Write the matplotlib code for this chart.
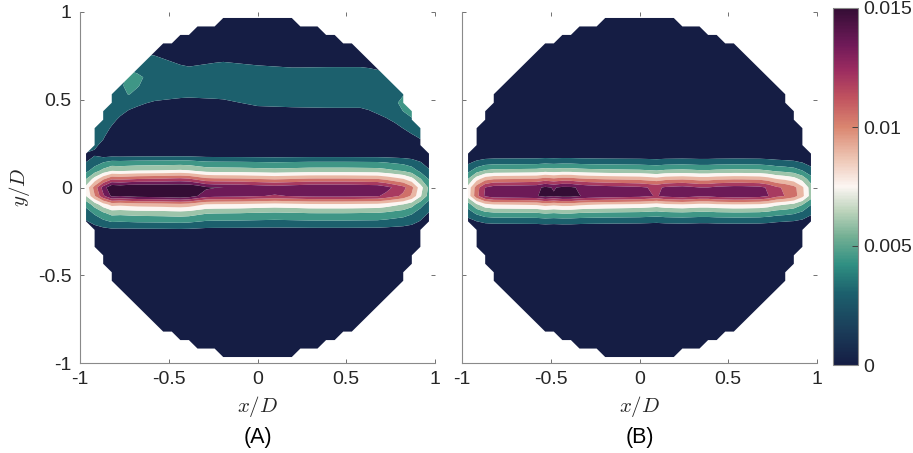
import numpy as np
import matplotlib
matplotlib.use("Agg")
import matplotlib.pyplot as plt
from matplotlib.colors import LinearSegmentedColormap, Normalize
from matplotlib.cm import ScalarMappable

plt.rcParams['font.family'] = ['Liberation Sans', 'DejaVu Sans']
plt.rcParams['mathtext.fontset'] = 'cm'
plt.rcParams['axes.unicode_minus'] = False

# jet cross-section on the grid rows (fraction of the y = 0 row value)
prof_y = [-0.29, -0.2415, -0.1932, -0.1449, -0.0966, -0.0483, 0.0, 0.0483, 0.0966, 0.1449, 0.1932, 0.25]
prof_a = [0, 0.08, 0.21, 0.34, 0.54, 0.925, 1.0, 0.69, 0.39, 0.23, 0.03, 0]
prof_b = [0, 0.03, 0.15, 0.34, 0.59, 1.02, 1.0, 0.70, 0.385, 0.18, 0.03, 0]

# y = 0 row value along x
xa = [-0.97, -0.95, -0.93, -0.90, -0.875, -0.86, -0.84, -0.76, -0.70, -0.5, -0.45,
      -0.38, -0.32, -0.28, -0.1, 0.1, 0.3, 0.5, 0.7, 0.73, 0.84, 0.88, 0.90, 0.93,
      0.955, 0.97]
amp_a = [0.0062, 0.0075, 0.009, 0.0105, 0.012, 0.0137, 0.0150, 0.0146, 0.0152, 0.0156,
         0.0160, 0.0155, 0.0142, 0.0136, 0.0134, 0.0128, 0.0134, 0.0134, 0.0131, 0.0124,
         0.0107, 0.009, 0.0077, 0.006, 0.0047, 0.004]
xb = [-0.97, -0.95, -0.93, -0.90, -0.87, -0.85, -0.7, -0.58, -0.54, -0.49, -0.46, -0.42,
      -0.32, -0.2, 0.0, 0.06, 0.1, 0.15, 0.25, 0.34, 0.37, 0.40, 0.55, 0.68, 0.72, 0.78,
      0.85, 0.89, 0.92, 0.95, 0.97]
amp_b = [0.0062, 0.0075, 0.0092, 0.0107, 0.012, 0.0127, 0.0129, 0.0131, 0.0139, 0.0134,
         0.0133, 0.0141, 0.0131, 0.0127, 0.0123, 0.0119, 0.0116, 0.0123, 0.0126, 0.0120,
         0.0117, 0.0123, 0.0127, 0.0124, 0.0119, 0.0106, 0.0100, 0.0090, 0.0077, 0.006,
         0.005]

# weak upper band in case A: centre, half width and level along x
arc_x = [-1.0, -0.9, -0.8, -0.72, -0.6, -0.4, -0.2, 0.0, 0.2, 0.4, 0.6, 0.75, 0.85, 0.95, 1.0]
arc_yc = [0.40, 0.43, 0.53, 0.60, 0.625, 0.60, 0.61, 0.58, 0.57, 0.57, 0.57, 0.52, 0.46, 0.40, 0.38]
arc_hw = [0.22, 0.21, 0.14, 0.14, 0.13, 0.09, 0.11, 0.12, 0.12, 0.12, 0.12, 0.13, 0.13, 0.14, 0.14]
arc_amp = [0.0026, 0.0027, 0.0028, 0.0033, 0.0029, 0.0026, 0.0026, 0.0026, 0.0025,
           0.0026, 0.0026, 0.0029, 0.0033, 0.0028, 0.0026]
arc_sec_d = [0, 0.6, 1.0, 1.6]
arc_sec_v = [1, 0.9, 0.55, 0]

levels = np.arange(0, 0.01501, 0.0015)
vmax = 0.015

curl = LinearSegmentedColormap.from_list('curl', [
    (0.00, '#151d44'), (0.10, '#1b3e5a'), (0.20, '#1c606d'), (0.28, '#2f8f82'),
    (0.36, '#74b094'), (0.43, '#bcd3bb'), (0.50, '#fcf6f3'), (0.58, '#edc4b2'),
    (0.667, '#da8670'), (0.75, '#c0525f'), (0.83, '#9a2b60'), (0.90, '#6e1a58'),
    (1.00, '#340d35')])
fill_colors = [curl(0.0)] + [curl(l / vmax) for l in levels[2:]]

g = np.linspace(-0.966, 0.966, 41)
X, Y = np.meshgrid(g, g)
outside = np.hypot(X, Y) > 0.99


def jet(xs, amps, prof):
    return np.interp(X, xs, amps) * np.interp(Y, prof_y, prof)


za = jet(xa, amp_a, prof_a)
d = np.abs(Y - np.interp(X, arc_x, arc_yc)) / np.interp(X, arc_x, arc_hw)
za = np.maximum(za, np.interp(X, arc_x, arc_amp) * np.interp(d, arc_sec_d, arc_sec_v))
zb = jet(xb, amp_b, prof_b)

fig = plt.figure(figsize=(9.13, 4.53), dpi=100)
W, H = 913, 453
ax_a = fig.add_axes([80 / W, 1 - 363 / H, 355 / W, 351 / H])
ax_b = fig.add_axes([462 / W, 1 - 363 / H, 355 / W, 351 / H])
cax = fig.add_axes([833 / W, 1 - 365 / H, 25 / W, 357 / H])

ticks = [-1, -0.5, 0, 0.5, 1]
tick_lbl = ['-1', '-0.5', '0', '0.5', '1']
for ax, z, name in [(ax_a, za, '(A)'), (ax_b, zb, '(B)')]:
    zm = np.ma.masked_array(np.clip(z, 0, vmax - 1e-6), mask=outside)
    ax.contourf(X, Y, zm, levels=levels, colors=fill_colors, antialiased=True)
    ax.set_xlim(-1, 1)
    ax.set_ylim(-1, 1)
    ax.set_xticks(ticks)
    ax.set_xticklabels(tick_lbl)
    ax.set_yticks(ticks)
    ax.set_yticklabels(tick_lbl)
    for s in ['top', 'right']:
        ax.spines[s].set_visible(False)
    for s in ['left', 'bottom']:
        ax.spines[s].set_color('#8a8a8a')
        ax.spines[s].set_linewidth(0.8)
    ax.tick_params(direction='in', length=3, width=0.7, color='#707070',
                   labelsize=14, labelcolor='#262626', top=True, right=True, pad=6)
    ax.set_xlabel('$x/D$', fontsize=15, color='#262626', labelpad=4)
    x0, x1 = ax.get_position().x0, ax.get_position().x1
    fig.text((x0 + x1) / 2, 1 - 437 / H, name, ha='center', va='center',
             fontsize=15.5, color='black')

ax_a.set_ylabel('$y/D$', fontsize=15, color='#262626', labelpad=4)
ax_b.set_yticklabels([])

sm = ScalarMappable(norm=Normalize(0, vmax), cmap=curl)
cb = fig.colorbar(sm, cax=cax, ticks=[0, 0.005, 0.01, 0.015])
cb.ax.set_yticklabels(['0', '0.005', '0.01', '0.015'])
cb.outline.set_edgecolor('#8a8a8a')
cb.outline.set_linewidth(0.8)
cax.tick_params(direction='in', length=4, width=0.7, color='#404040',
                labelsize=14, labelcolor='#262626', pad=4)

fig.savefig('out.png', dpi=100)
